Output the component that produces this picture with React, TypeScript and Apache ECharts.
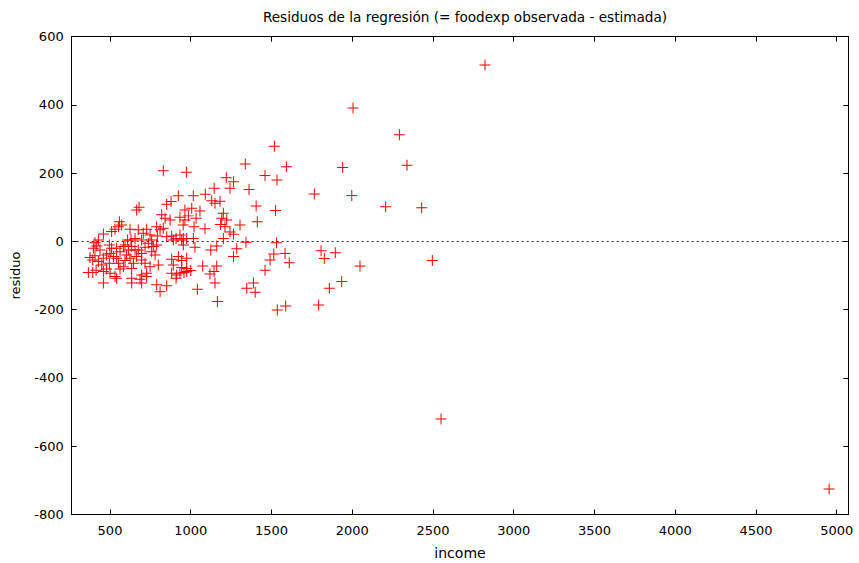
import React, { useEffect, useRef } from "react";
import * as echarts from "echarts";

const titleText = "Residuos de la regresión (= foodexp observada - estimada)";
const xTicks = [500, 1000, 1500, 2000, 2500, 3000, 3500, 4000, 4500, 5000];

const income = [
  2822, 2005, 2292, 2339, 1518, 1592, 1460, 1534, 1941, 1765, 1997, 2207, 2430, 1525, 1405, 1412,
  1531, 1514, 1584, 1491, 1610, 1460, 1807, 1827, 1895, 2048, 2496, 1858, 1935, 1792, 1536, 1588,
  2550, 4953, 1338, 1220, 1265, 1243, 1145, 1361, 1016, 1090, 1130, 1150, 1181, 1006, 1057, 1202,
  1223, 1088, 1305, 1265, 1202, 1342, 1016, 1026, 1124, 1161, 1285, 1265, 975, 1074, 1119, 1161,
  975, 1150, 1041, 1388, 1347, 1399, 1165, 1192, 1185, 1212, 1243, 1000, 1144,
  830, 973, 923, 878, 851, 680, 665, 964, 820, 841, 872, 933, 964, 985, 953, 1033, 1020,
  558, 552, 531, 572, 510, 459, 624, 675, 706, 727, 789, 810, 830, 748, 793, 851, 882, 909, 933, 954, 975,
  428, 407, 609, 630, 593, 655, 696, 737, 758, 496, 892, 944, 954,
  397, 418, 438, 510, 479, 500, 541, 562, 583, 634, 614, 655, 675, 717, 696, 758, 768, 789,
  376, 407, 393, 459, 521, 541, 603, 593, 624, 665, 696, 717, 779, 882, 923, 944,
  428, 449, 496, 552, 583, 562, 645, 634, 748, 727, 799, 944, 892, 882, 933, 975,
  366, 393, 414, 459, 479, 500, 541, 531, 634, 696, 686, 727, 913, 909, 958,
  459, 634, 696, 789, 810, 851
];

const residuo = [
  517, 391, 313, 223, 279, 219, 193, 180, 217, 139, 135, 102, 99, 91, 104, 58,
  -4, -37, -35, -54, -62, -84, -27, -50, -33, -72, -56, -137, -117, -186, -201, -189,
  -520, -725, 227, 187, 175, 156, 156, 152, 134, 138, 119, 112, 118, 97, 89, 83,
  63, 37, 48, 21, 9, -2, 9, -17, -25, -13, -21, -44, -49, -72, -95, -72,
  -88, -122, -140, -122, -137, -149, -176, 68, 50, 43, 28, -85, -88,
  207, 203, 134, 117, 109, 100, 92, 92, 78, 68, 63, 71, 63, 75, 48, 68, 43,
  58, 43, 36, 48, 29, 22, 36, 34, 24, 36, 43, 34, 39, 19, 16, 14, 16, 9, 19, 9, 9,
  4, -4, 4, 4, -10, 9, 4, -5, 4, -10, 4, 4, -10,
  -20, -13, -25, -20, -40, -35, -20, -30, -15, -15, -25, -25, -25, -17, -35, -30, -15, -10,
  -47, -42, -54, -49, -44, -49, -40, -56, -49, -44, -54, -64, -40, -52, -44, -56,
  -59, -69, -64, -64, -74, -81, -64, -79, -74, -93, -69, -76, -69, -93, -93, -79,
  -91, -91, -84, -88, -81, -93, -108, -103, -108, -98, -111, -103, -98, -108, -91,
  -122, -122, -122, -127, -147, -130
];

const FONT = "DejaVu Sans";

export default function App() {
  const ref = useRef<HTMLDivElement>(null);
  useEffect(() => {
    if (!ref.current) return;
    const chart = echarts.init(ref.current, undefined, { renderer: "svg" });
    const pts = income.map((x, i) => [x, residuo[i]]);
    const xMin = 262.8;
    const xMax = 5071.8;
    const axisLine = { show: true, onZero: false, lineStyle: { color: "#000", width: 1 } };
    const tick = { show: true, inside: true, length: 5, lineStyle: { color: "#000" } };
    const plain = (v: number) => String(Math.round(v));
    chart.setOption({
      animation: false,
      backgroundColor: "#fff",
      title: {
        text: titleText,
        left: 460,
        top: 5,
        textAlign: "center",
        textStyle: { fontFamily: FONT, fontSize: 13.6, fontWeight: "normal", color: "#000" },
      },
      grid: {
        left: 71.7,
        right: 10.7,
        top: 36.7,
        bottom: 48.5,
        containLabel: false,
        outerBoundsMode: "none",
      },
      xAxis: [
        {
          type: "value",
          min: xMin,
          max: xMax,
          position: "bottom",
          name: "income",
          nameLocation: "middle",
          nameGap: 31,
          nameTextStyle: { fontFamily: FONT, fontSize: 14, color: "#000" },
          axisLine,
          axisTick: { ...tick, customValues: xTicks },
          axisLabel: { customValues: xTicks, formatter: plain, fontFamily: FONT, fontSize: 13, color: "#000", margin: 9 },
          splitLine: { show: false },
        },
        {
          type: "value",
          min: xMin,
          max: xMax,
          position: "top",
          axisLine,
          axisTick: { ...tick, customValues: xTicks },
          axisLabel: { show: false },
          splitLine: { show: false },
        },
      ],
      yAxis: [
        {
          type: "value",
          min: -800,
          max: 600,
          interval: 200,
          position: "left",
          name: "residuo",
          nameLocation: "middle",
          nameGap: 50,
          nameRotate: 90,
          nameTextStyle: { fontFamily: FONT, fontSize: 13, color: "#000" },
          axisLine,
          axisTick: tick,
          axisLabel: { formatter: plain, fontFamily: FONT, fontSize: 13, color: "#000", margin: 8 },
          splitLine: { show: false },
        },
        {
          type: "value",
          min: -800,
          max: 600,
          interval: 200,
          position: "right",
          axisLine,
          axisTick: tick,
          axisLabel: { show: false },
          splitLine: { show: false },
        },
      ],
      series: [
        {
          type: "scatter",
          xAxisIndex: 0,
          yAxisIndex: 0,
          data: pts,
          symbol: "path://M0,5H11V6H0ZM5,0H6V11H5Z",
          symbolSize: 11,
          itemStyle: { color: "#ff0000", opacity: 1 },
          markLine: {
            silent: true,
            symbol: "none",
            label: { show: false },
            lineStyle: { color: "#333", width: 1, type: [2, 3] },
            data: [{ yAxis: 0 }],
          },
        },
      ],
    });
    return () => chart.dispose();
  }, []);
  return (
    <div
      ref={ref}
      style={{ position: "fixed", left: 0, top: 0, width: 859, height: 563 }}
    />
  );
}
